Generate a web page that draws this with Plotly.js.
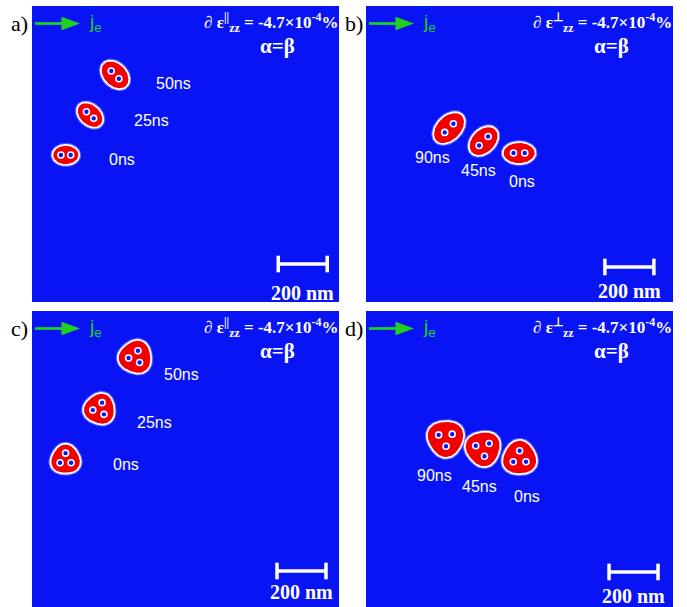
<!DOCTYPE html>
<html>
<head>
<meta charset="utf-8">
<script src="https://cdn.plot.ly/plotly-3.0.1.min.js"></script>
<style>
  html, body { margin: 0; padding: 0; background: #ffffff; }
  #chart { width: 687px; height: 607px; }
</style>
</head>
<body>
<div id="chart"></div>
<script>
// Current-driven skyrmion bags under uniaxial strain: four simulation frames.
// Skyrmion positions/sizes are in nm, measured from each frame's lower-left corner.

const panelIds     = ['a)', 'b)', 'c)', 'd)'];
const strainSymbol = ['||', '⊥', '||', '⊥'];
const strainValue  = '-4.7×10<sup>-4</sup>%';
const dampingLabel = 'α=β';
const currentLabel = 'j<sub>e</sub>';
const scaleBarNm   = 200;

// one entry per skyrmion snapshot
const skPanel  = [0, 0, 0, 1, 1, 1, 2, 2, 2, 3, 3, 3];
const skTime   = ['0ns', '25ns', '50ns', '0ns', '45ns', '90ns', '0ns', '25ns', '50ns', '0ns', '45ns', '90ns'];
const skX      = [138, 237, 339, 625, 480, 339, 137, 276, 422, 627, 478, 325];
const skY      = [600, 763, 927, 608, 657, 710, 602, 808, 1020, 608, 647, 688];
const skCores  = [2, 2, 2, 2, 2, 2, 3, 3, 3, 3, 3, 3];
const skA      = [55, 61, 67, 67, 70, 76, 61, 64, 68, 70, 72, 75];   // semi-axis along core direction
const skB      = [41, 43, 48, 45, 49, 51, 61, 64, 68, 70, 72, 75];   // perpendicular semi-axis
const skAngle  = [0, -42, -45, 0, 45, 45, 90, 69, 68, 90, -80, -87]; // orientation of the cores (deg)
const skCoreR  = [20, 20, 22, 23, 26, 25, 26, 28, 28, 30, 32, 32];   // core distance from centre
const skLabelX = [366, 489, 576, 638, 458, 271, 384, 502, 611, 656, 465, 278];
const skLabelY = [580, 740, 890, 491, 536, 591, 582, 752, 950, 453, 491, 535];

// ---- frame geometry (pixels of the 687x607 page) ----
const W = 687, H = 607;
const frames = [
  { x: [32, 339],  y: [6, 302] },
  { x: [366, 673], y: [6, 302] },
  { x: [32, 339],  y: [311, 607] },
  { x: [366, 673], y: [311, 607] }
];
const NM_PER_PX = 200 / 49;
const xRange = [0, 307 * NM_PER_PX];
const yRange = [0, 296 * NM_PER_PX];
const scaleBarX0 = [1005, 975, 1000, 992];
const scaleBarY  = [155, 143, 147, 143];
const scaleTextY = [38, 45, 61, 45];

const BLUE = '#0814f4';
const RED = '#f20000';
const GREEN = '#1ed21e';

const px = x => x / W;
const py = y => 1 - y / H;
const axSuffix = p => (p === 0 ? '' : String(p + 1));

function outline(i) {
  const xs = [], ys = [];
  const rot = skAngle[i] * Math.PI / 180;
  const tri = skCores[i] === 3 ? 0.06 : 0;
  const n = 144;
  for (let k = 0; k <= n; k++) {
    const t = 2 * Math.PI * k / n;
    const f = 1 + tri * Math.cos(3 * t);
    const u = skA[i] * Math.cos(t) * f;
    const v = skB[i] * Math.sin(t) * f;
    xs.push(skX[i] + u * Math.cos(rot) - v * Math.sin(rot));
    ys.push(skY[i] + u * Math.sin(rot) + v * Math.cos(rot));
  }
  return { xs, ys };
}

function corePoints(i) {
  const xs = [], ys = [];
  const n = skCores[i];
  const rot = skAngle[i] * Math.PI / 180;
  for (let k = 0; k < n; k++) {
    const a = rot + 2 * Math.PI * k / n;
    xs.push(skX[i] + skCoreR[i] * Math.cos(a));
    ys.push(skY[i] + skCoreR[i] * Math.sin(a));
  }
  return { xs, ys };
}

const halos = [], bodies = [], coreTraces = [];
for (let i = 0; i < skX.length; i++) {
  const s = axSuffix(skPanel[i]);
  const o = outline(i);
  const c = corePoints(i);
  halos.push({
    type: 'scatter', mode: 'lines', x: o.xs, y: o.ys, xaxis: 'x' + s, yaxis: 'y' + s,
    line: { color: 'rgba(130,140,255,0.7)', width: 4 }, hoverinfo: 'skip', showlegend: false
  });
  bodies.push({
    type: 'scatter', mode: 'lines', x: o.xs, y: o.ys, xaxis: 'x' + s, yaxis: 'y' + s,
    fill: 'toself', fillcolor: RED,
    line: { color: '#ffffff', width: 1.8 }, hoverinfo: 'skip', showlegend: false
  });
  coreTraces.push({
    type: 'scatter', mode: 'markers', x: c.xs, y: c.ys, xaxis: 'x' + s, yaxis: 'y' + s,
    marker: { size: 6, color: BLUE, line: { color: '#ffffff', width: 1.6 } },
    hoverinfo: 'skip', showlegend: false
  });
}

const layout = {
  width: W, height: H,
  margin: { l: 0, r: 0, t: 0, b: 0 },
  paper_bgcolor: '#ffffff',
  plot_bgcolor: BLUE,
  hovermode: false,
  showlegend: false,
  annotations: [],
  shapes: []
};

const axisBase = {
  showgrid: false, zeroline: false, showticklabels: false, ticks: '',
  showline: false, fixedrange: true
};

frames.forEach((f, p) => {
  const s = axSuffix(p);
  layout['xaxis' + s] = Object.assign({}, axisBase, {
    domain: [px(f.x[0]), px(f.x[1])], range: xRange, anchor: 'y' + s
  });
  layout['yaxis' + s] = Object.assign({}, axisBase, {
    domain: [py(f.y[1]), py(f.y[0])], range: yRange, anchor: 'x' + s
  });

  const left = f.x[0], top = f.y[0], right = f.x[1];

  // panel letter
  layout.annotations.push({
    xref: 'paper', yref: 'paper', x: px(left - 12.5), y: py(top + 17), showarrow: false,
    text: panelIds[p], font: { family: 'Liberation Serif, Times New Roman, serif', size: 22, color: '#000000' },
    xanchor: 'center', yanchor: 'middle'
  });

  // current direction arrow
  const ay = top + 17.5;
  layout.shapes.push({
    type: 'line', xref: 'paper', yref: 'paper',
    x0: px(left + 3), x1: px(left + 31), y0: py(ay), y1: py(ay),
    line: { color: GREEN, width: 2.7 }
  });
  layout.shapes.push({
    type: 'path', xref: 'paper', yref: 'paper',
    path: 'M' + px(left + 29.5) + ',' + py(ay - 6.7) + ' L' + px(left + 48) + ',' + py(ay) +
          ' L' + px(left + 29.5) + ',' + py(ay + 6.7) + ' Z',
    fillcolor: GREEN, line: { width: 0 }
  });
  layout.annotations.push({
    xref: 'paper', yref: 'paper', x: px(left + 55), y: py(top + 17), showarrow: false,
    text: currentLabel, font: { family: 'Liberation Sans, Arial, sans-serif', size: 19, color: GREEN },
    xanchor: 'left', yanchor: 'middle'
  });

  // strain and damping labels
  layout.annotations.push({
    xref: 'paper', yref: 'paper', x: px(right + 1), y: py(top + 16), showarrow: false,
    text: '<b>∂ ε<sup>' + strainSymbol[p] + '</sup><sub>zz</sub> = ' + strainValue + '</b>',
    font: { family: 'Liberation Serif, Times New Roman, serif', size: 17, color: '#ffffff' },
    xanchor: 'right', yanchor: 'middle'
  });
  layout.annotations.push({
    xref: 'paper', yref: 'paper', x: px(left + 245), y: py(top + 40), showarrow: false,
    text: '<b>' + dampingLabel + '</b>',
    font: { family: 'Liberation Serif, Times New Roman, serif', size: 21, color: '#ffffff' },
    xanchor: 'center', yanchor: 'middle'
  });

  // 200 nm scale bar in data units
  const x0 = scaleBarX0[p], x1 = x0 + scaleBarNm, yb = scaleBarY[p];
  const barStyle = { color: '#ffffff', width: 3.5 };
  layout.shapes.push({ type: 'line', xref: 'x' + s, yref: 'y' + s, x0: x0, x1: x1, y0: yb, y1: yb, line: barStyle });
  layout.shapes.push({ type: 'line', xref: 'x' + s, yref: 'y' + s, x0: x0, x1: x0, y0: yb - 34, y1: yb + 34, line: barStyle });
  layout.shapes.push({ type: 'line', xref: 'x' + s, yref: 'y' + s, x0: x1, x1: x1, y0: yb - 34, y1: yb + 34, line: barStyle });
  layout.annotations.push({
    xref: 'x' + s, yref: 'y' + s, x: (x0 + x1) / 2, y: scaleTextY[p], showarrow: false,
    text: '<b>' + scaleBarNm + ' nm</b>',
    font: { family: 'Liberation Serif, Times New Roman, serif', size: 20, color: '#ffffff' },
    xanchor: 'center', yanchor: 'middle'
  });
});

// time stamps beside each snapshot
for (let i = 0; i < skX.length; i++) {
  const s = axSuffix(skPanel[i]);
  layout.annotations.push({
    xref: 'x' + s, yref: 'y' + s, x: skLabelX[i], y: skLabelY[i], showarrow: false,
    text: skTime[i], font: { family: 'Liberation Sans, Arial, sans-serif', size: 16, color: '#ffffff' },
    xanchor: 'center', yanchor: 'middle'
  });
}

Plotly.newPlot('chart', halos.concat(bodies, coreTraces), layout, { displayModeBar: false, staticPlot: true });
</script>
</body>
</html>
